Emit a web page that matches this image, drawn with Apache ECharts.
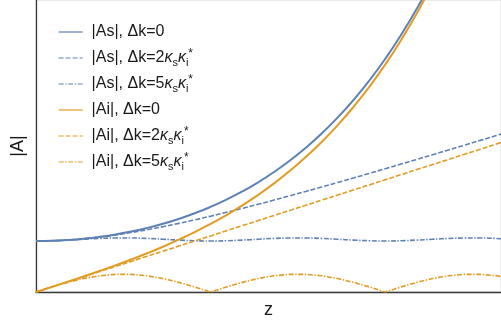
<!DOCTYPE html>
<html>
<head>
<meta charset="utf-8">
<script src="https://cdn.jsdelivr.net/npm/echarts@6/dist/echarts.min.js"></script>
<style>
  html, body { margin: 0; padding: 0; background: #fff; }
  #chart { width: 501px; height: 324px; }
</style>
</head>
<body>
<div id="chart"></div>
<script>
// z positions (arbitrary units, no ticks shown)
const zValues = [0, 0.1, 0.2, 0.3, 0.4, 0.5, 0.6, 0.7, 0.8, 0.9, 1.0, 1.1, 1.2, 1.3, 1.4,
  1.5, 1.6, 1.7, 1.8, 1.9, 2.0, 2.1, 2.2, 2.3, 2.4, 2.5, 2.6, 2.7, 2.8, 2.9, 2.93]

// |As|, |Ai| (|As(0)| = 1)
const asDk0 = [1, 1.005, 1.02, 1.045, 1.081, 1.128, 1.185, 1.255, 1.337, 1.433, 1.543, 1.669,
  1.811, 1.971, 2.151, 2.352, 2.577, 2.828, 3.107, 3.418, 3.762, 4.144, 4.568, 5.037, 5.557, 6.132, 6.769]
const asDk2 = [1, 1.005, 1.02, 1.044, 1.077, 1.118, 1.166, 1.221, 1.281, 1.345, 1.414, 1.487,
  1.562, 1.64, 1.72, 1.803, 1.887, 1.972, 2.059, 2.147, 2.236, 2.326, 2.417, 2.508, 2.6, 2.693,
  2.786, 2.879, 2.973, 3.067, 3.096]
const asDk5 = [1, 1.005, 1.018, 1.034, 1.05, 1.058, 1.058, 1.05, 1.034, 1.018, 1.005, 1,
  1.005, 1.018, 1.034, 1.05, 1.058, 1.058, 1.05, 1.034, 1.018, 1.005, 1, 1.005, 1.018, 1.034,
  1.05, 1.058, 1.058, 1.05, 1.045]
const aiDk0 = [0, 0.1, 0.201, 0.305, 0.411, 0.521, 0.637, 0.759, 0.888, 1.027, 1.175, 1.336,
  1.509, 1.698, 1.904, 2.129, 2.376, 2.646, 2.942, 3.268, 3.627, 4.022, 4.457, 4.937, 5.466, 6.05, 6.695]
const aiDk2 = [0, 0.1, 0.2, 0.3, 0.4, 0.5, 0.6, 0.7, 0.8, 0.9, 1.0, 1.1, 1.2, 1.3, 1.4, 1.5,
  1.6, 1.7, 1.8, 1.9, 2.0, 2.1, 2.2, 2.3, 2.4, 2.5, 2.6, 2.7, 2.8, 2.9, 2.93]
const aiDk5 = [0, 0.099, 0.189, 0.265, 0.318, 0.346, 0.346, 0.318, 0.265, 0.189, 0.099, 0,
  0.099, 0.189, 0.265, 0.318, 0.346, 0.346, 0.318, 0.265, 0.189, 0.099, 0, 0.099, 0.189, 0.265,
  0.318, 0.346, 0.346, 0.318, 0.305]

const seriesNames = ['|As|, Δk=0', '|As|, Δk=2κsκi*', '|As|, Δk=5κsκi*',
  '|Ai|, Δk=0', '|Ai|, Δk=2κsκi*', '|Ai|, Δk=5κsκi*']
// rich-text versions for the legend
const legendLabels = {
  '|As|, Δk=0': '|As|, Δk=0',
  '|As|, Δk=2κsκi*': '|As|, Δk=2{k|κ}{sub|s}{k|κ}{sub|i}{sup|*}',
  '|As|, Δk=5κsκi*': '|As|, Δk=5{k|κ}{sub|s}{k|κ}{sub|i}{sup|*}',
  '|Ai|, Δk=0': '|Ai|, Δk=0',
  '|Ai|, Δk=2κsκi*': '|Ai|, Δk=2{k|κ}{sub|s}{k|κ}{sub|i}{sup|*}',
  '|Ai|, Δk=5κsκi*': '|Ai|, Δk=5{k|κ}{sub|s}{k|κ}{sub|i}{sup|*}',
}

const blue = '#5e81b5'
const orange = '#e19c24'
const dashed = [5, 2]
const dotDash = [5, 1.6, 1.4, 1.6]

function pairs(vals) {
  return vals.map((v, i) => [zValues[i], v])
}

function line(name, vals, color, type, width, smooth) {
  return {
    name: name,
    type: 'line',
    data: pairs(vals),
    symbol: 'none',
    smooth: smooth,
    clip: true,
    lineStyle: { color: color, width: width, type: type },
    itemStyle: { color: color },
  }
}

const chart = echarts.init(document.getElementById('chart'), null, { renderer: 'canvas' })
chart.setOption({
  animation: false,
  backgroundColor: '#fff',
  textStyle: { fontFamily: 'Liberation Sans' },
  grid: {
    left: 36,
    right: -1,
    top: 0,
    bottom: 32,
    show: true,
    borderColor: '#d8d8d8',
    borderWidth: 1,
  },
  legend: {
    orient: 'vertical',
    left: 58,
    top: 22,
    padding: 0,
    itemWidth: 24,
    itemHeight: 10,
    itemGap: 6,
    data: seriesNames,
    lineStyle: { width: 1.2 },
    itemStyle: { opacity: 0 },
    formatter: function (name) {
      return legendLabels[name]
    },
    textStyle: {
      fontSize: 16,
      color: '#1a1a1a',
      lineHeight: 20,
      padding: [0, 0, 0, 4],
      rich: {
        k: { fontSize: 16, fontStyle: 'italic', color: '#1a1a1a', lineHeight: 20 },
        sub: { fontSize: 11, color: '#1a1a1a', lineHeight: 10, verticalAlign: 'bottom' },
        sup: { fontSize: 12, color: '#1a1a1a', lineHeight: 12, verticalAlign: 'top' },
      },
    },
  },
  xAxis: {
    type: 'value',
    min: 0,
    max: 2.93,
    name: 'z',
    nameLocation: 'middle',
    nameGap: 9,
    nameTextStyle: { fontSize: 18, color: '#1a1a1a' },
    axisLine: { show: true, onZero: false, lineStyle: { color: '#3a3a3a', width: 1.3 } },
    axisTick: { show: false },
    axisLabel: { show: false },
    splitLine: { show: false },
  },
  yAxis: {
    type: 'value',
    min: 0,
    max: 5.725,
    name: '|A|',
    nameLocation: 'middle',
    nameRotate: 90,
    nameGap: 9,
    nameTextStyle: { fontSize: 18, color: '#1a1a1a' },
    axisLine: { show: true, onZero: false, lineStyle: { color: '#3a3a3a', width: 1.3 } },
    axisTick: { show: false },
    axisLabel: { show: false },
    splitLine: { show: false },
  },
  series: [
    line(seriesNames[0], asDk0, blue, 'solid', 2, true),
    line(seriesNames[1], asDk2, blue, dashed, 1.6, true),
    line(seriesNames[2], asDk5, blue, dotDash, 1.6, true),
    line(seriesNames[3], aiDk0, orange, 'solid', 2, true),
    line(seriesNames[4], aiDk2, orange, dashed, 1.6, true),
    line(seriesNames[5], aiDk5, orange, dotDash, 1.6, false),
  ],
})
</script>
</body>
</html>
